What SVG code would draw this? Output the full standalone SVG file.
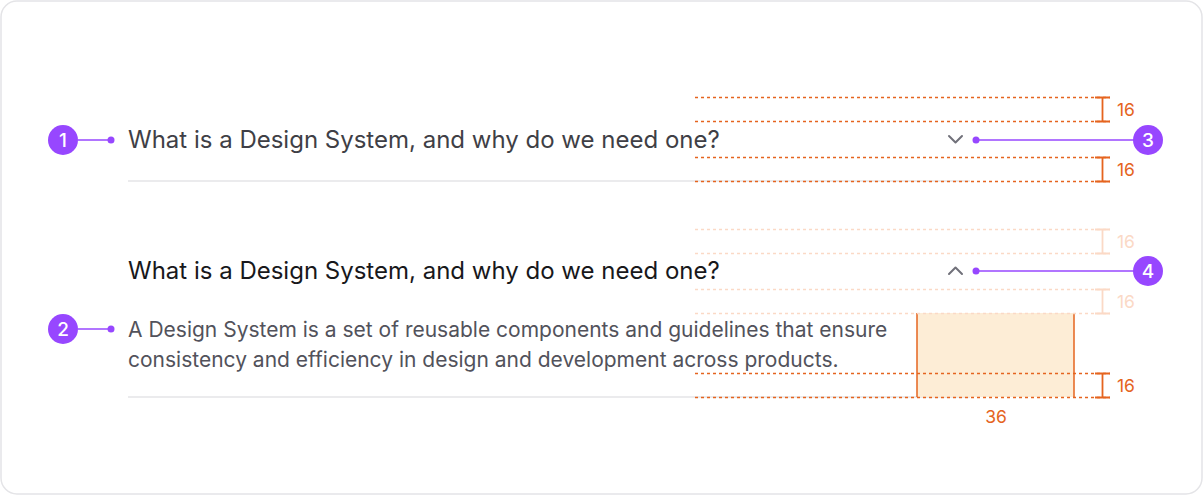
<svg xmlns="http://www.w3.org/2000/svg" width="1203" height="495" viewBox="0 0 1203 495">
<style>
.card{fill:#fff;stroke:#e4e4e7;stroke-width:1.5}
.h{font-family:Inter,"Noto Sans",sans-serif;font-size:24px}
.p{font-family:Inter,"Noto Sans",sans-serif;font-size:21px;fill:#52525b}
.div{stroke:#e4e4e7;stroke-width:1.5}
.dash{stroke:#e5641f;stroke-width:1.3;stroke-dasharray:3 3;fill:none}
.dashf{stroke:#fbd9c6;stroke-width:1.3;stroke-dasharray:3 3;fill:none}
.tick{stroke:#e5641f;stroke-width:1.8;fill:none}
.tickf{stroke:#fbd9c6;stroke-width:1.8;fill:none}
.lbl{font-family:Inter,"Noto Sans",sans-serif;font-size:17.5px;fill:#e5641f}
.lblf{font-family:Inter,"Noto Sans",sans-serif;font-size:17.5px;fill:#fbd9c6}
.badge{fill:#9747ff}
.bt{font-family:Inter,"Noto Sans",sans-serif;font-size:19px;font-weight:500;fill:#fff;text-anchor:middle}
.lead{stroke:#9747ff;stroke-width:1.5}
.chev{stroke:#71717a;stroke-width:2;fill:none;stroke-linecap:round;stroke-linejoin:round}
</style>
<rect class="card" x="1" y="1" width="1201" height="493" rx="16"/>
<g id="item1">
<text class="h" x="128" y="147.5" fill="#3f3f46">What is a Design System, and why do we need one?</text>
<polyline class="chev" points="949,136 955.5,142.5 962,136"/>
<line class="div" x1="128" y1="181" x2="970" y2="181"/>
</g>
<g id="item2">
<text class="h" x="128" y="279" fill="#18181b">What is a Design System, and why do we need one?</text>
<polyline class="chev" points="949,274 955.5,267.5 962,274"/>
<text class="p" x="128" y="337">A Design System is a set of reusable components and guidelines that ensure</text>
<text class="p" x="128" y="367">consistency and efficiency in design and development across products.</text>
<line class="div" x1="128" y1="397" x2="970" y2="397"/>
</g>
<g id="measure-box">
<rect x="917" y="313" width="157" height="84" fill="#fdedd6"/>
<line x1="917" y1="313" x2="917" y2="397" stroke="#e5641f" stroke-width="1.5"/>
<line x1="1074" y1="313" x2="1074" y2="397" stroke="#e5641f" stroke-width="1.5"/>
<text class="lbl" x="996" y="423" text-anchor="middle">36</text>
</g>
<g id="spacing">
<line class="dash" x1="695" y1="97.5" x2="1110" y2="97.5"/>
<line class="dash" x1="695" y1="121.5" x2="1110" y2="121.5"/>
<line class="dash" x1="695" y1="157.5" x2="1110" y2="157.5"/>
<line class="dash" x1="695" y1="181.5" x2="1110" y2="181.5"/>
<path class="tick" d="M1095 97.5H1110M1102.5 97.5V121.5M1095 121.5H1110"/>
<path class="tick" d="M1095 157.5H1110M1102.5 157.5V181.5M1095 181.5H1110"/>
<text class="lbl" x="1117" y="115.5">16</text>
<text class="lbl" x="1117" y="175.5">16</text>
<line class="dashf" x1="695" y1="229.5" x2="1110" y2="229.5"/>
<line class="dashf" x1="695" y1="253.5" x2="1110" y2="253.5"/>
<line class="dashf" x1="695" y1="289.5" x2="1110" y2="289.5"/>
<line class="dashf" x1="695" y1="313.5" x2="1110" y2="313.5"/>
<path class="tickf" d="M1095 229.5H1110M1102.5 229.5V253.5M1095 253.5H1110"/>
<path class="tickf" d="M1095 289.5H1110M1102.5 289.5V313.5M1095 313.5H1110"/>
<text class="lblf" x="1117" y="247.5">16</text>
<text class="lblf" x="1117" y="307.5">16</text>
<line class="dash" x1="695" y1="373.5" x2="1110" y2="373.5"/>
<line class="dash" x1="695" y1="397.5" x2="1110" y2="397.5"/>
<path class="tick" d="M1095 373.5H1110M1102.5 373.5V397.5M1095 397.5H1110"/>
<text class="lbl" x="1117" y="391.5">16</text>
</g>
<g id="connectors">
<line class="lead" x1="78" y1="140" x2="111" y2="140"/>
<circle class="badge" cx="111" cy="140" r="3.5"/>
<line class="lead" x1="78" y1="329" x2="111" y2="329"/>
<circle class="badge" cx="111" cy="329" r="3.5"/>
<line class="lead" x1="976" y1="140" x2="1134" y2="140"/>
<circle class="badge" cx="976" cy="140" r="3.5"/>
<line class="lead" x1="976" y1="271" x2="1134" y2="271"/>
<circle class="badge" cx="976" cy="271" r="3.5"/>
</g>
<g id="badge1"><circle class="badge" cx="63" cy="140" r="15"/><text class="bt" x="63" y="147">1</text></g>
<g id="badge2"><circle class="badge" cx="63" cy="329" r="15"/><text class="bt" x="63" y="336">2</text></g>
<g id="badge3"><circle class="badge" cx="1148" cy="140" r="15"/><text class="bt" x="1148" y="147">3</text></g>
<g id="badge4"><circle class="badge" cx="1148" cy="271" r="15"/><text class="bt" x="1148" y="278">4</text></g>
</svg>
